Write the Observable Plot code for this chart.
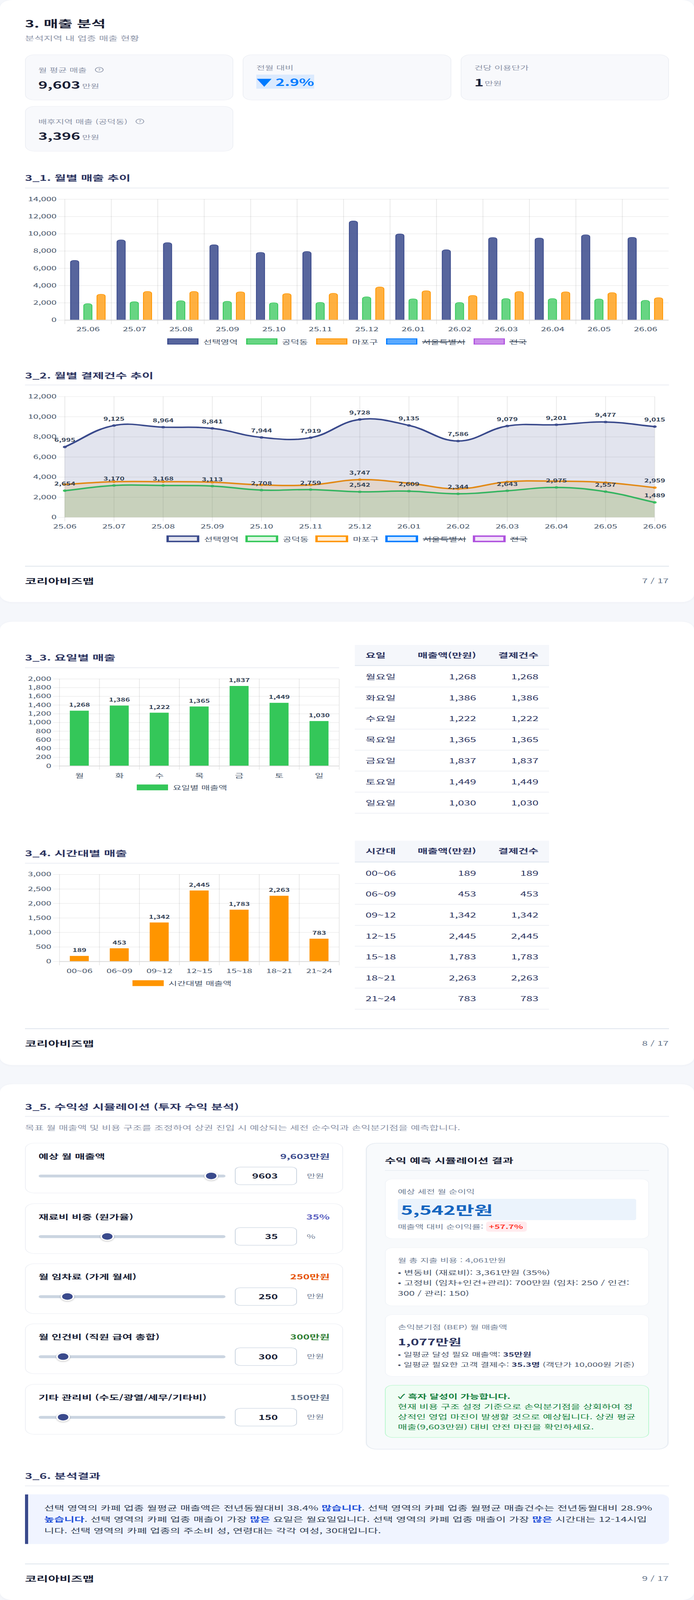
<!DOCTYPE html>
<html lang="ko">
<head>
<meta charset="utf-8">
<title>3. 매출 분석</title>
<script src="https://cdn.jsdelivr.net/npm/d3@7"></script>
<script src="https://cdn.jsdelivr.net/npm/@observablehq/plot@0.6"></script>
<style>
html,body{margin:0;padding:0;background:#f5f7fb;font-family:"Noto Sans CJK KR","Noto Sans",sans-serif;overflow:hidden;}
#root{position:relative;width:1776px;height:6604px;overflow:hidden;background:#f5f7fb;transform-origin:0 0;}
.page{position:absolute;left:0;width:1776px;background:#fff;border-radius:32px;box-shadow:0 2px 8px rgba(30,40,80,.03);}
.abs{position:absolute;box-sizing:border-box;}
.t{position:absolute;line-height:1;white-space:nowrap;transform:translateY(-50%);}
.legend{position:absolute;display:flex;justify-content:center;align-items:center;font-size:24px;color:#475569;line-height:1;}
.legend .item{display:flex;align-items:center;gap:12px;}
.legend .sw{width:80px;box-sizing:border-box;display:block;}
.plotbox{position:absolute;}
.plotbox svg{overflow:visible;display:block;}
</style>
</head>
<body>
<div id="root"></div>
<script>
// ---------- chart data ----------
const months = ["25.06","25.07","25.08","25.09","25.10","25.11","25.12","26.01","26.02","26.03","26.04","26.05","26.06"];
const salesSelected = [6909,9280,8960,8716,7838,7930,11470,9972,8133,9553,9500,9865,9580];
const salesGongdeok = [1890,2122,2231,2163,2000,2041,2680,2449,2027,2476,2476,2435,2272];
const salesMapo     = [2980,3307,3307,3265,3061,3088,3823,3388,2844,3293,3265,3170,2585];
const countsSelected = [6995,9125,8964,8841,7944,7919,9728,9135,7586,9079,9201,9477,9015];
const countsGongdeok = [2654,3170,3168,3113,2708,2759,2542,2609,2344,2643,2975,2557,1489];
const countsMapo     = [3275,3545,3545,3494,3224,3224,3747,3393,2836,3528,3595,3460,2959];
const mapoLabelled   = ["25.12","26.06"];
const weekdayNames = ["월요일","화요일","수요일","목요일","금요일","토요일","일요일"];
const weekdayShort = ["월","화","수","목","금","토","일"];
const weekdaySales = [1268,1386,1222,1365,1837,1449,1030];
const weekdayCounts = [1268,1386,1222,1365,1837,1449,1030];
const hourBands = ["00~06","06~09","09~12","12~15","15~18","18~21","21~24"];
const hourSales = [189,453,1342,2445,1783,2263,783];
const hourCounts = [189,453,1342,2445,1783,2263,783];
const ticksSales = [0,2000,4000,6000,8000,10000,12000,14000];
const ticksCounts = [0,2000,4000,6000,8000,10000,12000];
const ticksWeekday = [0,200,400,600,800,1000,1200,1400,1600,1800,2000];
const ticksHour = [0,500,1000,1500,2000,2500,3000];

const NAVY="#3a4a8c", GREEN="#34c759", ORANGE="#ff9500", BLUE="#007bff", PURPLE="#af52de";
const INK="#1a1f36", HEAD="#2d3561", MUTED="#8b93a7", AXIS="#475569", LABEL="#334155";
const FONT='"Noto Sans CJK KR","Noto Sans",sans-serif';
const root=document.getElementById("root");
// The layout is 1776x6604; when the window is shorter, compress vertically so that nothing is lost.
const fit=Math.min(1,window.innerHeight/6604);
if(fit<1) root.style.transform=`scaleY(${fit})`;

function el(cls,css,html,parent){const d=document.createElement("div");d.className=cls;d.style.cssText=css;if(html!=null)d.innerHTML=html;(parent||root).appendChild(d);return d;}
function box(x,y,w,h,css){return el("abs",`left:${x}px;top:${y}px;width:${w}px;height:${h}px;${css||""}`);}
function t(x,cy,html,size,color,weight,extra){return el("t",`left:${x}px;top:${cy}px;font-size:${size}px;color:${color};font-weight:${weight||400};${extra||""}`,html);}
function tr(right,cy,html,size,color,weight,extra){return el("t",`right:${1776-right}px;top:${cy}px;font-size:${size}px;color:${color};font-weight:${weight||400};${extra||""}`,html);}
function sectionTitle(text,cy,ruleY,right){t(64,cy,text,32,HEAD,700);box(64,ruleY-2,(right||1712)-64,4,"background:#eef0f5");}
function footer(lineY,cy,page){box(64,lineY-1,1648,2,"background:#cbd5e1");t(64,cy,"코리아비즈맵",32,INK,700);tr(1711,cy,page,26,"#64748b");}
function helpIcon(cx,cy){el("abs",`left:${cx-11}px;top:${cy-11}px;width:22px;height:22px;border:2px solid ${MUTED};border-radius:50%;color:${MUTED};font-size:14px;line-height:18px;text-align:center;font-weight:500`,"?");}
function place(svg,x,y){const b=el("plotbox",`left:${x}px;top:${y}px`);b.appendChild(svg);}

// ---------- page cards ----------
[[0,2485],[2565.5,4396],[4475,6604]].forEach(([a,b])=>el("page",`top:${a}px;height:${b-a}px`));

// ---------- header + KPI ----------
t(64,96,"3. 매출 분석",40,INK,700);
t(64,156,"분석지역 내 업종 매출 현황",26,MUTED);
const kpiBox="background:#f8f9fc;border:2px solid #eef0f5;border-radius:24px";
box(64,225,533.3,189,kpiBox);box(621.3,225,533.3,189,kpiBox);box(1178.7,225,533.3,189,kpiBox);box(64,438,533.3,187,kpiBox);
t(98,288,"월 평균 매출",24,MUTED);helpIcon(254,288);
t(98,349,"9,603",40,INK,700);t(210,354,"만원",24,MUTED);
t(656,279,"전월 대비",24,MUTED);
box(656,308,148,58,"background:#dbeafe");
t(656,337,"▼ 2.9%",40,BLUE,700);
t(1214,279,"건당 이용단가",24,MUTED);
t(1214,339,"1",40,INK,700);t(1240,342.5,"만원",24,MUTED);
t(98,501,"배후지역 매출 (공덕동)",24,MUTED);helpIcon(358,501);
t(98,561,"3,396",40,INK,700);t(210,566,"만원",24,MUTED);

// ---------- helpers for charts ----------
function ChartSpline(ctx){this._ctx=ctx;}
ChartSpline.prototype={
  areaStart(){this._line=0;},areaEnd(){this._line=NaN;},
  lineStart(){this._p=[];},
  point(x,y){this._p.push([+x,+y]);},
  lineEnd(){
    const p=this._p,c=this._ctx,T=.4,n=p.length;
    if(n){
      if(this._line) c.lineTo(p[0][0],p[0][1]); else c.moveTo(p[0][0],p[0][1]);
      const cp=p.map((q,i)=>{
        const a=p[i-1]||q,b=p[i+1]||q;
        const d01=Math.hypot(q[0]-a[0],q[1]-a[1]),d12=Math.hypot(b[0]-q[0],b[1]-q[1]),s=d01+d12||1;
        const fa=T*d01/s,fb=T*d12/s;
        return {px:q[0]-fa*(b[0]-a[0]),py:q[1]-fa*(b[1]-a[1]),nx:q[0]+fb*(b[0]-a[0]),ny:q[1]+fb*(b[1]-a[1])};
      });
      for(let i=1;i<n;i++) c.bezierCurveTo(cp[i-1].nx,cp[i-1].ny,cp[i].px,cp[i].py,p[i][0],p[i][1]);
    }
    if(this._line||(this._line!==0&&n===1)) c.closePath();
    this._line=1-this._line;
  }
};
const chartSpline=ctx=>new ChartSpline(ctx);

const GRID={stroke:"#000",strokeOpacity:.085,strokeWidth:2};
const fmt=d3.format(",");
function axes(ticks,xPad){return [
  Plot.axisY({ticks,tickSize:0,tickPadding:21,tickFormat:fmt,fontSize:24,label:null}),
  Plot.axisX({tickSize:0,tickPadding:xPad,fontSize:24,label:null})
];}
function legend(items,cy,left,width,kind){
  const L=el("legend",`left:${left}px;width:${width}px;top:${cy-20}px;height:40px;gap:${kind==="line"?17:21}px`);
  items.forEach(it=>{
    const st=kind==="line"
      ?`height:28px;width:84px;border:6px solid ${it.c};background:${it.fill}`
      :(kind==="flat"?`height:24px;background:${it.c}`:`height:25px;border:3px solid ${it.c};background:${it.fill}`);
    const lab=it.hidden?`text-decoration:line-through;text-decoration-thickness:3px;text-decoration-color:#334155`:"";
    el("item","",`<span class="sw" style="${st}"></span><span style="${lab}">${it.n}</span>`,L);
  });
}
const alpha=(hex,a)=>{const c=d3.rgb(hex);c.opacity=a;return c.formatRgb();};

// ---------- 3_1 monthly sales ----------
sectionTitle("3_1. 월별 매출 추이",732,775.5);
{
  const W=1648,mL=101.4,mR=1,top=802,y14=822,y0=1320.8,bot=1380;
  const step=(W-mL-mR)/months.length,ins=(step-21)/2;
  const bars=(vals,c,dx,op)=>Plot.barY(months.map((m,i)=>({m,v:vals[i]})),{x:"m",y:"v",dx,fill:c,fillOpacity:op,stroke:c,strokeWidth:2,insetLeft:ins,insetRight:ins,ry1:8});
  place(Plot.plot({
    width:W,height:bot-top,marginTop:y14-top,marginBottom:bot-y0,marginLeft:mL,marginRight:mR,
    style:{fontFamily:FONT,background:"transparent",color:AXIS,overflow:"visible"},
    x:{type:"band",domain:months,padding:0,round:false},
    y:{domain:[0,14000]},
    marks:[
      Plot.ruleY(ticksSales,{y:d=>d,insetLeft:-16,...GRID}),
      Plot.ruleX(months,{x:d=>d,dx:-step/2,insetBottom:-17,...GRID}),
      bars(salesSelected,NAVY,-33.8,.85),
      bars(salesGongdeok,GREEN,0,.75),
      bars(salesMapo,ORANGE,33.8,.75),
      Plot.ruleY([0],{y:d=>d,stroke:"#d9d9d9",strokeWidth:3}),
      ...axes(ticksSales,29)
    ]
  }),64,top);
  legend([{n:"선택영역",c:NAVY,fill:alpha(NAVY,.85)},{n:"공덕동",c:GREEN,fill:alpha(GREEN,.75)},{n:"마포구",c:ORANGE,fill:alpha(ORANGE,.75)},{n:"서울특별시",c:BLUE,fill:alpha(BLUE,.65),hidden:1},{n:"전국",c:PURPLE,fill:alpha(PURPLE,.65),hidden:1}],1409.5,64,1648);
}

// ---------- 3_2 monthly counts ----------
sectionTitle("3_2. 월별 결제건수 추이",1548.7,1589.4);
{
  const W=1648,mL=101.4,mR=37,top=1616,yT=1636.4,y0=2135,bot=2195;
  const row=vals=>months.map((m,i)=>({m,v:vals[i]}));
  const series=(vals,c)=>[
    Plot.areaY(row(vals),{x:"m",y:"v",curve:chartSpline,fill:c,fillOpacity:.15}),
    Plot.lineY(row(vals),{x:"m",y:"v",curve:chartSpline,stroke:c,strokeWidth:6}),
    Plot.dot(row(vals),{x:"m",y:"v",r:4,fill:c,fillOpacity:.15,stroke:c,strokeWidth:2})
  ];
  const labels=(d)=>Plot.text(d,{x:"m",y:"v",text:r=>fmt(r.v),dy:-27,fontSize:20,fontWeight:700,fill:LABEL});
  place(Plot.plot({
    width:W,height:bot-top,marginTop:yT-top,marginBottom:bot-y0,marginLeft:mL,marginRight:mR,
    style:{fontFamily:FONT,background:"transparent",color:AXIS,overflow:"visible"},
    x:{type:"point",domain:months,padding:0,round:false},
    y:{domain:[0,12000]},
    marks:[
      Plot.ruleY(ticksCounts,{y:d=>d,insetLeft:-16,...GRID}),
      Plot.ruleX(months,{x:d=>d,insetBottom:-17,...GRID}),
      ...series(countsMapo,ORANGE),
      ...series(countsGongdeok,GREEN),
      ...series(countsSelected,NAVY),
      labels(row(countsMapo).filter(d=>mapoLabelled.includes(d.m))),
      labels(row(countsGongdeok)),
      labels(row(countsSelected)),
      ...axes(ticksCounts,29)
    ]
  }),64,top);
  legend([{n:"선택영역",c:NAVY,fill:alpha(NAVY,.15)},{n:"공덕동",c:GREEN,fill:alpha(GREEN,.15)},{n:"마포구",c:ORANGE,fill:alpha(ORANGE,.15)},{n:"서울특별시",c:BLUE,fill:alpha(BLUE,.15),hidden:1},{n:"전국",c:PURPLE,fill:alpha(PURPLE,.15),hidden:1}],2223.6,64,1648,"line");
}
footer(2336.5,2395.5,"7 / 17");

// ---------- 3_3 / 3_4 ----------
function bandChart(cats,vals,ticks,maxV,color,yT,y0,legendName,legendCy){
  const W=803.5,mL=87.8,mR=0,top=yT-20,bot=y0+62;
  const step=(W-mL-mR)/cats.length;
  const data=cats.map((c,i)=>({c,v:vals[i]}));
  place(Plot.plot({
    width:W,height:bot-top,marginTop:yT-top,marginBottom:bot-y0,marginLeft:mL,marginRight:mR,
    style:{fontFamily:FONT,background:"transparent",color:AXIS,overflow:"visible"},
    x:{type:"band",domain:cats,paddingInner:.525,paddingOuter:.2625,round:false},
    y:{domain:[0,maxV]},
    marks:[
      Plot.ruleY(ticks,{y:d=>d,insetLeft:-16,...GRID}),
      Plot.ruleX(cats,{x:d=>d,dx:-step/2,insetBottom:-16,...GRID}),
      Plot.ruleX(cats.slice(-1),{x:d=>d,dx:step/2,insetBottom:-16,...GRID}),
      Plot.barY(data,{x:"c",y:"v",fill:color}),
      Plot.ruleY([0],{y:d=>d,stroke:"#d9d9d9",strokeWidth:3}),
      Plot.text(data,{x:"c",y:"v",text:r=>fmt(r.v),dy:-23,fontSize:20,fontWeight:700,fill:LABEL}),
      ...axes(ticks,31)
    ]
  }),64,top);
  legend([{n:legendName,c:color}],legendCy,64,803.5,"flat");
}
function dataTable(head,names,vals,cnts,yTop,yHeadBottom,rowH,headCy){
  box(908,yTop,497,yHeadBottom-yTop,"background:#f5f7fb;border-bottom:4px solid #e2e8f0");
  t(935.5,headCy,head,28,HEAD,700);
  tr(1218.6,headCy,"매출액(만원)",28,HEAD,700);
  tr(1378,headCy,"결제건수",28,HEAD,700);
  names.forEach((n,i)=>{
    const cy=yHeadBottom+rowH*(i+.5)-.5, ly=yHeadBottom+rowH*(i+1);
    t(935.5,cy,n,28,HEAD);
    tr(1218.6,cy,fmt(vals[i]),28,HEAD);
    tr(1378,cy,fmt(cnts[i]),28,HEAD);
    box(908,ly-1.5,497,3,"background:#eef0f5");
  });
}
sectionTitle("3_3. 요일별 매출",2712,2755.6,867.5);
bandChart(weekdayShort,weekdaySales,ticksWeekday,2000,GREEN,2801.5,3160.5,"요일별 매출액",3250);
dataTable("요일",weekdayNames,weekdaySales,weekdayCounts,2661.8,2749,86.76,2702.6);
sectionTitle("3_4. 시간대별 매출",3519.6,3563,867.5);
bandChart(hourBands,hourSales,ticksHour,3000,ORANGE,3609.4,3968.6,"시간대별 매출액",4058);
dataTable("시간대",hourBands,hourSales,hourCounts,3469.8,3559.6,86.5,3510.7);
footer(4246.4,4305.3,"8 / 17");

// ---------- 3_5 simulator ----------
sectionTitle("3_5. 수익성 시뮬레이션 (투자 수익 분석)",4566.3,4607.6);
t(64,4654,"목표 월 매출액 및 비용 구조를 조정하여 상권 진입 시 예상되는 세전 순수익과 손익분기점을 예측합니다.",26,MUTED);
const sliders=[
  ["예상 월 매출액","9,603만원",NAVY,"9603","만원",540,4716.7],
  ["재료비 비중 (원가율)","35%","#5a5fc0","35","%",274,4966.7],
  ["월 임차료 (가게 월세)","250만원","#e65100","250","만원",172,5214.8],
  ["월 인건비 (직원 급여 총합)","300만원","#2e7d32","300","만원",161,5462.9],
  ["기타 관리비 (수도/광열/세무/기타비)","150만원","#64748b","150","만원",161,5712.7]
];
sliders.forEach(([lab,val,col,num,unit,tx,y])=>{
  box(64,y,813.5,208,"background:#fff;border:2px solid #eef0f5;border-radius:24px");
  t(98.5,y+54.5,lab,28,INK,700);
  tr(843.7,y+54.5,val,28,col,700);
  box(98.5,y+131,478,12,"background:#cbd5e1;border-radius:6px");
  box(tx-17.5,y+119.5,35,35,`background:${NAVY};border:4px solid #fff;border-radius:50%;box-shadow:0 2px 6px rgba(0,0,0,.25)`);
  box(600.5,y+99.5,159,75,"background:#fff;border:2px solid #cbd5e1;border-radius:14px");
  tr(711,y+136.5,num,28,INK,700);
  t(785,y+135,unit,24,"#718096");
});

// result panel
box(935.5,4716.7,775.5,1266.3,"background:#f8fafc;border:3px solid #e8edf3;border-radius:28px");
t(985,4788.8,"수익 예측 시뮬레이션 결과",30,INK,700);
box(985,4830,676,2,"background:#e2e8f0");
const inner="background:#fff;border:2px solid #f1f4f8;border-radius:20px";
box(985,4865.3,676,248.7,inner);
t(1018,4917,"예상 세전 월 순이익",24,"#718096");
box(1018,4948,609.5,88,"background:#ebf3fc;border-radius:6px");
t(1026,4992,"5,542만원",52,"#1565c0",700);
t(1018,5063,"매출액 대비 순이익률:",24,"#718096");
box(1243.5,5042,104.2,42,"background:#ffebee;border-radius:8px");
t(1251,5063,"+57.7%",24,"#ff3b30",700);
box(985,5149,676,241.8,inner);
t(1018,5200.8,"월 총 지출 비용 : 4,061만원",24,"#718096");
t(1018,5251.8,"• 변동비 (재료비): 3,361만원 (35%)",26,"#4a5568");
t(1018,5293.9,"• 고정비 (임차+인건+관리): 700만원 (임차: 250 / 인건:",26,"#4a5568");
t(1018,5336.6,"300 / 관리: 150)",26,"#4a5568");
box(985,5425,676,257,inner);
t(1018,5477,"손익분기점 (BEP) 월 매출액",24,"#718096");
t(1018,5536,"1,077만원",36,HEAD,700);
t(1018,5590.4,`• 일평균 달성 필요 매출액: <b style="color:${HEAD}">35만원</b>`,24,"#4a5568");
t(1018,5630.7,`• 일평균 필요한 고객 결제수: <b style="color:${HEAD}">35.3명</b> (객단가 10,000원 기준)`,24,"#4a5568");
box(985,5716.5,676,217,"background:#f0fdf4;border:2px solid #bbf7d0;border-radius:20px");
t(1018,5762.6,"✓ 흑자 달성이 가능합니다.",26,"#15803d",700);
t(1018,5804,"현재 비용 구조 설정 기준으로 손익분기점을 상회하여 정",26,"#15803d");
t(1018,5846.5,"상적인 영업 마진이 발생할 것으로 예상됩니다. 상권 평균",26,"#15803d");
t(1018,5888.7,"매출(9,603만원) 대비 안전 마진을 확인하세요.",26,"#15803d");

// ---------- 3_6 ----------
sectionTitle("3_6. 분석결과",6090.4,6133.3);
box(64,6167.9,1648,205.5,`background:#f0f4ff;border-left:8px solid ${NAVY};border-radius:0 20px 20px 0`);
const B=s=>`<b style="color:#1d4ed8">${s}</b>`;
t(113,6221.6,`선택 영역의 카페 업종 월평균 매출액은 전년동월대비 38.4% ${B("많습니다")}. 선택 영역의 카페 업종 월평균 매출건수는 전년동월대비 28.9%`,28,"#334155");
t(113,6269,`${B("높습니다")}. 선택 영역의 카페 업종 매출이 가장 ${B("많은")} 요일은 월요일입니다. 선택 영역의 카페 업종 매출이 가장 ${B("많은")} 시간대는 12-14시입`,28,"#334155");
t(113,6317,"니다. 선택 영역의 카페 업종의 주소비 성, 연령대는 각각 여성, 30대입니다.",28,"#334155");
footer(6454.7,6514,"9 / 17");
</script>
</body>
</html>
